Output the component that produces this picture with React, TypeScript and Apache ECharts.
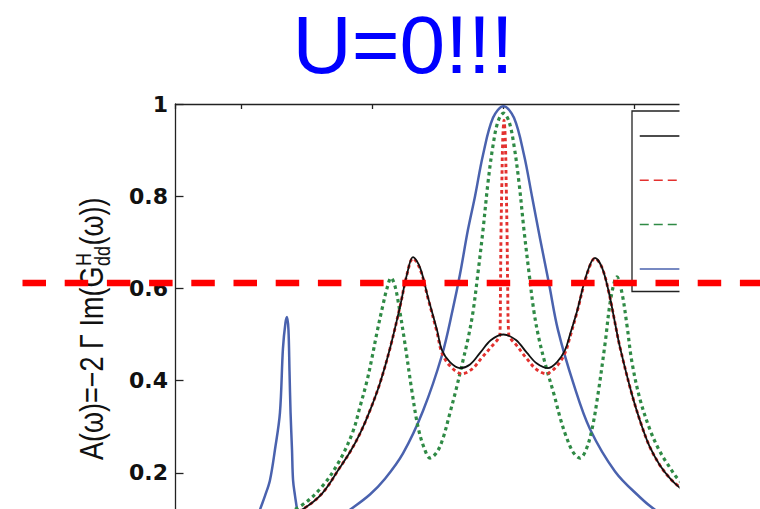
import React, { useEffect, useRef } from 'react';
import * as echarts from 'echarts';

const TITLE = 'U=0!!!';
const Y_NAME_MAIN = 'A(ω)=−2 Γ Im(G';
const Y_NAME_SUP = 'H';
const Y_NAME_SUB = 'dd';
const Y_NAME_TAIL = '(ω))';

const SERIES_NAMES = ['curve 1', 'curve 2', 'curve 3', 'curve 4'];

const X_MIN = -2.5;
const X_MAX = 2.5;
const Y_MIN = 0;
const Y_MAX = 1;
const Y_STEP = 0.2;

// [omega, A(omega)]
const BLACK: [number, number][] = [
  [-2.5, 0.038], [-2.138, 0.052], [-1.833, 0.075], [-1.536, 0.12], [-1.383, 0.155], [-1.246, 0.212],
  [-1.17, 0.245], [-1.094, 0.285], [-1.018, 0.335], [-0.941, 0.395], [-0.865, 0.47], [-0.789, 0.56],
  [-0.736, 0.63], [-0.69, 0.668], [-0.636, 0.645], [-0.575, 0.58], [-0.507, 0.51], [-0.469, 0.466],
  [-0.408, 0.44], [-0.332, 0.427], [-0.255, 0.435], [-0.179, 0.46], [-0.095, 0.488], [0, 0.5],
  [0.095, 0.488], [0.179, 0.46], [0.255, 0.437], [0.339, 0.427], [0.408, 0.44], [0.469, 0.466],
  [0.507, 0.5], [0.56, 0.55], [0.636, 0.633], [0.697, 0.666], [0.751, 0.645], [0.804, 0.59],
  [0.85, 0.525], [0.888, 0.472], [0.979, 0.37], [1.056, 0.3], [1.117, 0.255], [1.193, 0.216],
  [1.269, 0.188], [1.338, 0.169], [1.536, 0.122], [1.833, 0.077], [2.138, 0.054], [2.5, 0.04],
];

const RED: [number, number][] = [
  [-2.5, 0.038], [-2.138, 0.052], [-1.833, 0.075], [-1.536, 0.12], [-1.383, 0.155], [-1.246, 0.212],
  [-1.17, 0.245], [-1.094, 0.285], [-1.018, 0.335], [-0.941, 0.395], [-0.865, 0.47], [-0.789, 0.56],
  [-0.736, 0.63], [-0.69, 0.665], [-0.636, 0.642], [-0.575, 0.578], [-0.507, 0.505], [-0.469, 0.46],
  [-0.408, 0.432], [-0.316, 0.415], [-0.24, 0.425], [-0.164, 0.45], [-0.088, 0.475], [-0.042, 0.49],
  [-0.027, 0.5], [-0.023, 0.6], [-0.019, 0.72], [-0.013, 0.82], [-0.006, 0.92], [0.004, 0.965],
  [0.014, 0.92], [0.021, 0.82], [0.027, 0.72], [0.032, 0.6], [0.04, 0.5], [0.057, 0.49],
  [0.095, 0.478], [0.171, 0.45], [0.248, 0.425], [0.324, 0.415], [0.408, 0.432], [0.469, 0.46],
  [0.507, 0.495], [0.56, 0.548], [0.636, 0.63], [0.697, 0.665], [0.751, 0.645], [0.804, 0.59],
  [0.85, 0.525], [0.888, 0.472], [0.979, 0.37], [1.056, 0.3], [1.117, 0.255], [1.193, 0.216],
  [1.269, 0.188], [1.338, 0.17], [1.536, 0.123], [1.833, 0.078], [2.138, 0.055], [2.5, 0.04],
];

const GREEN: [number, number][] = [
  [-2.5, 0.045], [-2.138, 0.06], [-1.833, 0.085], [-1.536, 0.13], [-1.383, 0.17], [-1.246, 0.228],
  [-1.147, 0.29], [-1.094, 0.343], [-1.04, 0.4], [-1.002, 0.45], [-0.964, 0.505], [-0.918, 0.565],
  [-0.888, 0.6], [-0.857, 0.623], [-0.827, 0.605], [-0.796, 0.56], [-0.751, 0.48], [-0.697, 0.375],
  [-0.652, 0.3], [-0.606, 0.255], [-0.56, 0.232], [-0.507, 0.245], [-0.461, 0.275], [-0.408, 0.33],
  [-0.362, 0.38], [-0.316, 0.435], [-0.271, 0.49], [-0.232, 0.55], [-0.194, 0.635], [-0.156, 0.727],
  [-0.118, 0.83], [-0.08, 0.91], [-0.042, 0.962], [0, 0.98], [0.042, 0.962], [0.08, 0.91],
  [0.118, 0.83], [0.156, 0.727], [0.194, 0.635], [0.232, 0.55], [0.271, 0.49], [0.324, 0.43],
  [0.385, 0.37], [0.431, 0.32], [0.476, 0.28], [0.53, 0.245], [0.583, 0.232], [0.629, 0.25],
  [0.675, 0.295], [0.72, 0.37], [0.774, 0.48], [0.819, 0.58], [0.865, 0.625], [0.903, 0.59],
  [0.941, 0.52], [0.979, 0.44], [1.04, 0.36], [1.117, 0.293], [1.185, 0.25], [1.246, 0.221],
  [1.338, 0.184], [1.536, 0.135], [1.833, 0.088], [2.138, 0.062], [2.5, 0.046],
];

const BLUE: [number, number][] = [
  [-2.5, 0.02], [-2.16, 0.035], [-1.97, 0.06], [-1.89, 0.09], [-1.856, 0.12], [-1.818, 0.15],
  [-1.78, 0.184], [-1.742, 0.25], [-1.704, 0.33], [-1.681, 0.47], [-1.662, 0.525], [-1.65, 0.538],
  [-1.639, 0.51], [-1.631, 0.42], [-1.623, 0.33], [-1.612, 0.25], [-1.604, 0.184], [-1.589, 0.15],
  [-1.574, 0.12], [-1.551, 0.05], [-1.536, 0.005], [-1.513, 0.02], [-1.437, 0.05], [-1.322, 0.09],
  [-1.17, 0.12], [-1.018, 0.153], [-0.903, 0.187], [-0.766, 0.242], [-0.614, 0.334], [-0.469, 0.455],
  [-0.385, 0.557], [-0.332, 0.63], [-0.271, 0.727], [-0.217, 0.8], [-0.156, 0.89], [-0.08, 0.97],
  [0, 0.995], [0.08, 0.97], [0.156, 0.89], [0.217, 0.8], [0.278, 0.709], [0.347, 0.61],
  [0.415, 0.51], [0.537, 0.39], [0.659, 0.295], [0.85, 0.203], [1.04, 0.147], [1.155, 0.12],
  [1.345, 0.09], [1.65, 0.06], [2.107, 0.04], [2.5, 0.03],
];

const FONT_MAIN = '27px "Liberation Sans", Arial, sans-serif';
const FONT_SMALL = '18px "Liberation Sans", Arial, sans-serif';

function measure(text: string, font: string): number {
  const ctx = document.createElement('canvas').getContext('2d');
  if (!ctx) return text.length * 12;
  ctx.font = font;
  return ctx.measureText(text).width;
}

export default function App() {
  const ref = useRef<HTMLDivElement>(null);

  useEffect(() => {
    if (!ref.current) return;
    const chart = echarts.init(ref.current, undefined, { renderer: 'svg' });

    const w1 = measure(Y_NAME_MAIN, FONT_MAIN);
    const wSup = measure(Y_NAME_SUP, FONT_SMALL);
    const wSub = measure(Y_NAME_SUB, FONT_SMALL);
    const w2 = Math.max(wSup, wSub) + 1;

    const axisColor = '#222';

    const option: any = {
      animation: false,
      backgroundColor: '#fff',
      grid: { left: 175.5, top: 104, width: 656, height: 461, outerBoundsMode: 'none', containLabel: false },
      xAxis: {
        type: 'value',
        position: 'top',
        min: X_MIN,
        max: X_MAX,
        axisLine: { show: true, onZero: false, lineStyle: { color: axisColor, width: 1.3 } },
        axisTick: { show: true, inside: true, length: 5, lineStyle: { color: axisColor, width: 1.3 } },
        axisLabel: { show: false },
        splitLine: { show: false },
      },
      yAxis: {
        type: 'value',
        position: 'left',
        min: Y_MIN,
        max: Y_MAX,
        interval: Y_STEP,
        axisLine: { show: true, onZero: false, lineStyle: { color: axisColor, width: 1.3 } },
        axisTick: { show: true, inside: true, length: 8, lineStyle: { color: axisColor, width: 1.3 } },
        axisLabel: {
          show: true,
          showMinLabel: false,
          margin: 7.5,
          color: '#111',
          fontFamily: '"DejaVu Sans", sans-serif',
          fontWeight: 'bold',
          fontSize: 22,
        },
        splitLine: { show: false },
      },
      legend: {
        orient: 'vertical',
        left: 632,
        top: 111,
        data: [
          { name: SERIES_NAMES[0] },
          { name: SERIES_NAMES[1], lineStyle: { type: [9, 5] } },
          { name: SERIES_NAMES[2], lineStyle: { type: [9, 5] } },
          { name: SERIES_NAMES[3] },
        ],
        itemWidth: 40,
        itemHeight: 14,
        itemGap: 31.7,
        padding: [18, 100, 17, 7],
        borderColor: axisColor,
        borderWidth: 1.3,
        backgroundColor: '#fff',
        formatter: () => '',
        lineStyle: { width: 1.5 },
        itemStyle: { color: 'rgba(0,0,0,0)', borderWidth: 0, borderColor: 'rgba(0,0,0,0)' },
        selectedMode: false,
      },
      series: [
        {
          name: SERIES_NAMES[3], type: 'line', data: BLUE, symbol: 'none', showSymbol: false,
          smooth: 0.35,
          lineStyle: { color: '#4A62AE', width: 2.5 }, itemStyle: { color: '#4A62AE' },
        },
        {
          name: SERIES_NAMES[2], type: 'line', data: GREEN, symbol: 'none', showSymbol: false,
          smooth: 0.35,
          lineStyle: { color: '#2F8A45', width: 3.2, type: [3.5, 3.5] }, itemStyle: { color: '#2F8A45' },
        },
        {
          name: SERIES_NAMES[1], type: 'line', data: RED, symbol: 'none', showSymbol: false,
          smooth: 0.35,
          lineStyle: { color: '#E3312F', width: 2.9, type: [3.5, 3] }, itemStyle: { color: '#E3312F' },
        },
        {
          name: SERIES_NAMES[0], type: 'line', data: BLACK, symbol: 'none', showSymbol: false,
          smooth: 0.35,
          lineStyle: { color: '#111', width: 1.8 }, itemStyle: { color: '#111' },
        },
      ],
      graphic: [
        {
          type: 'text',
          x: 403,
          y: 44,
          style: {
            text: TITLE,
            font: '82px "Liberation Sans", Arial, sans-serif',
            lineHeight: 82,
            fill: '#0000FF',
            align: 'center',
            verticalAlign: 'middle',
          },
        },
        {
          type: 'group',
          x: 92,
          y: 460,
          rotation: Math.PI / 2,
          scaleX: 1,
          scaleY: 1.2,
          children: [
            { type: 'text', x: 0, y: 0, style: { text: Y_NAME_MAIN, font: FONT_MAIN, fill: '#111', align: 'left', verticalAlign: 'middle' } },
            { type: 'text', x: w1 + 0.5, y: -7.5, style: { text: Y_NAME_SUP, font: FONT_SMALL, fill: '#111', align: 'left', verticalAlign: 'middle' } },
            { type: 'text', x: w1 + 0.5, y: 8.5, style: { text: Y_NAME_SUB, font: FONT_SMALL, fill: '#111', align: 'left', verticalAlign: 'middle' } },
            { type: 'text', x: w1 + w2, y: 0, style: { text: Y_NAME_TAIL, font: FONT_MAIN, fill: '#111', align: 'left', verticalAlign: 'middle' } },
          ],
        },
        {
          type: 'rect',
          z: 100,
          shape: { x: 679.5, y: 88, width: 81, height: 421 },
          style: { fill: '#fff' },
        },
        {
          type: 'line',
          z: 101,
          shape: { x1: 22.5, y1: 283, x2: 760, y2: 283 },
          style: { stroke: '#FF0000', lineWidth: 6.5, lineDash: [23.5, 18.7] },
        },
      ],
    };

    chart.setOption(option);
    return () => chart.dispose();
  }, []);

  return (
    <div
      ref={ref}
      style={{ position: 'fixed', left: 0, top: 0, width: 760, height: 509, background: '#fff' }}
    />
  );
}
